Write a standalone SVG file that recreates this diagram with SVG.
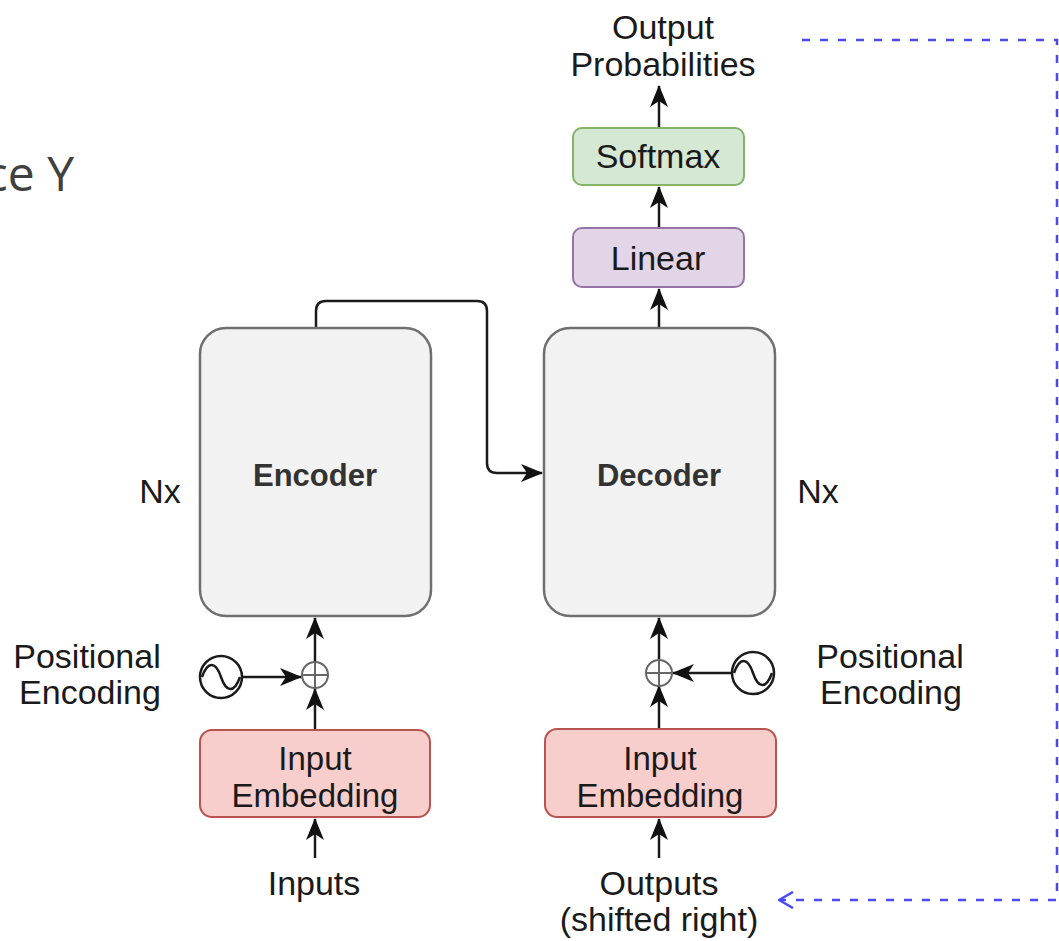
<svg xmlns="http://www.w3.org/2000/svg" width="1059" height="941" viewBox="0 0 1059 941">
<style>
  text { font-family: "Liberation Sans", Arial, Helvetica, sans-serif; fill: #1a1a1a; font-size: 34px; text-anchor: middle; }
  .bold { font-weight: bold; fill: #333333; font-size: 31px; }
  .inbox { font-size: 33px; }
  .block { fill: #f2f2f2; stroke: #6f6f6f; stroke-width: 2.5; }
  .emb { fill: #f8cecc; stroke: #b85450; stroke-width: 2; }
  .lin { fill: #e1d5e7; stroke: #9673a6; stroke-width: 2; }
  .soft { fill: #d5e8d4; stroke: #82b366; stroke-width: 2; }
  .arrow { fill: none; stroke: #1a1a1a; stroke-width: 2.5; marker-end: url(#ah); }
  .plus { fill: #ffffff; stroke: #666666; stroke-width: 2; }
  .sine { fill: #ffffff; stroke: #1a1a1a; stroke-width: 2.5; }
  .wave { fill: none; stroke: #1a1a1a; stroke-width: 2.5; }
  .dash { fill: none; stroke: #4a4aee; stroke-width: 2.5; stroke-dasharray: 8 10; }
</style>
<defs>
  <marker id="ah" viewBox="0 0 22 18" markerWidth="22" markerHeight="18" refX="21" refY="9" orient="auto" markerUnits="userSpaceOnUse">
    <path d="M0,0 L22,9 L0,18 L6,9 Z" fill="#111111"/>
  </marker>
  <marker id="open" viewBox="0 0 16 18" markerWidth="16" markerHeight="18" refX="15" refY="9" orient="auto" markerUnits="userSpaceOnUse">
    <path d="M1,1 L15,9 L1,17" fill="none" stroke="#4a4aee" stroke-width="2.5"/>
  </marker>
</defs>
<rect width="1059" height="941" fill="#ffffff"/>

<text x="74" y="191" style="font-family:'Open Sans','Noto Sans',sans-serif;font-size:48px;fill:#404040;text-anchor:end">ce Y</text>

<g id="connectors">
  <path class="arrow" d="M316,328 V311 Q316,301 326,301 H477 Q487,301 487,311 V463 Q487,473 497,473 H542"/>
  <path class="arrow" d="M659,328 V289"/>
  <path class="arrow" d="M659,228 V187"/>
  <path class="arrow" d="M659,128 V86"/>
  <path class="arrow" d="M315,662 V618"/>
  <path class="arrow" d="M315,730 V689"/>
  <path class="arrow" d="M243,677 H301"/>
  <path class="arrow" d="M315,858 V819"/>
  <path class="arrow" d="M659,659 V618"/>
  <path class="arrow" d="M659,729 V686"/>
  <path class="arrow" d="M731,673 H673"/>
  <path class="arrow" d="M659,858 V819"/>
  <path class="dash" d="M802,40 H1057 V900 H779" marker-end="url(#open)"/>
</g>

<g id="encoder">
  <rect class="block" x="200" y="328" width="231" height="288" rx="26"/>
  <text class="bold" x="315" y="486">Encoder</text>
</g>
<g id="decoder">
  <rect class="block" x="544" y="328" width="231" height="288" rx="26"/>
  <text class="bold" x="659" y="486">Decoder</text>
</g>
<g id="nx-left"><text x="160" y="503">Nx</text></g>
<g id="nx-right"><text x="818" y="503">Nx</text></g>

<g id="linear">
  <rect class="lin" x="573" y="228" width="171" height="59" rx="9"/>
  <text x="658" y="270">Linear</text>
</g>
<g id="softmax">
  <rect class="soft" x="573" y="128" width="171" height="57" rx="9"/>
  <text x="658" y="168">Softmax</text>
</g>
<g id="output-probabilities">
  <text x="663" y="39">Output</text>
  <text x="663" y="76">Probabilities</text>
</g>

<g id="input-embedding">
  <rect class="emb" x="200" y="730" width="230" height="87" rx="12"/>
  <text class="inbox" x="315" y="770">Input</text>
  <text class="inbox" x="315" y="807">Embedding</text>
</g>
<g id="output-embedding">
  <rect class="emb" x="545" y="729" width="231" height="88" rx="12"/>
  <text class="inbox" x="660" y="770">Input</text>
  <text class="inbox" x="660" y="807">Embedding</text>
</g>

<g id="enc-add">
  <circle class="plus" cx="315" cy="675" r="13"/>
  <path d="M302,675 H328 M315,662 V688" stroke="#666666" stroke-width="2"/>
</g>
<g id="dec-add">
  <circle class="plus" cx="659" cy="673" r="13"/>
  <path d="M646,673 H672 M659,660 V686" stroke="#666666" stroke-width="2"/>
</g>

<g id="enc-pos">
  <circle class="sine" cx="221" cy="677" r="21"/>
  <path class="wave" d="M202,677 C208,660 216,662 221,677 C226,692 234,694 240,677"/>
  <text x="87" y="668">Positional</text>
  <text x="90" y="704">Encoding</text>
</g>
<g id="dec-pos">
  <circle class="sine" cx="753" cy="673" r="21"/>
  <path class="wave" d="M734,673 C740,656 748,658 753,673 C758,688 766,690 772,673"/>
  <text x="890" y="668">Positional</text>
  <text x="891" y="704">Encoding</text>
</g>

<g id="inputs"><text x="314" y="895">Inputs</text></g>
<g id="outputs">
  <text x="659" y="895">Outputs</text>
  <text x="659" y="931">(shifted right)</text>
</g>
</svg>
